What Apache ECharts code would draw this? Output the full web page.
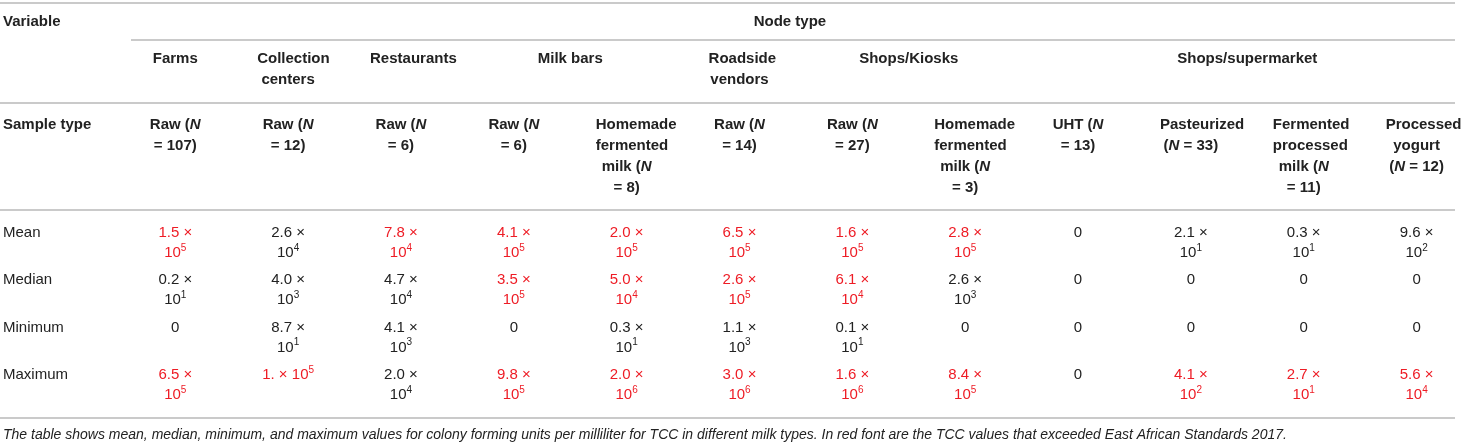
<!DOCTYPE html>
<html>
<head>
<meta charset="utf-8">
<script src="https://cdn.jsdelivr.net/npm/echarts@6/dist/echarts.min.js"></script>
<style>
  html, body { margin: 0; padding: 0; background: #fff; }
  #tcc_table { width: 1473px; height: 445px; }
</style>
</head>
<body>
<div id="tcc_table"></div>
<script>
// header texts
var variableLabel = 'Variable';
var nodeTypeLabel = 'Node type';
var sampleTypeLabel = 'Sample type';
var groupNames = ['Farms', 'Collection\ncenters', 'Restaurants', 'Milk bars', 'Roadside\nvendors', 'Shops/Kiosks', 'Shops/supermarket'];
var groupSpans = [1, 1, 1, 2, 1, 2, 4];
var sampleTypes = [
  'Raw (N\n= 107)', 'Raw (N\n= 12)', 'Raw (N\n= 6)', 'Raw (N\n= 6)',
  'Homemade\nfermented\nmilk (N\n= 8)', 'Raw (N\n= 14)', 'Raw (N\n= 27)',
  'Homemade\nfermented\nmilk (N\n= 3)', 'UHT (N\n= 13)', 'Pasteurized\n(N = 33)',
  'Fermented\nprocessed\nmilk (N\n= 11)', 'Processed\nyogurt\n(N = 12)'
];

// body
var rowNames = ['Mean', 'Median', 'Minimum', 'Maximum'];
var meanValues = ['1.5 × 10^5', '2.6 × 10^4', '7.8 × 10^4', '4.1 × 10^5', '2.0 × 10^5', '6.5 × 10^5', '1.6 × 10^5', '2.8 × 10^5', '0', '2.1 × 10^1', '0.3 × 10^1', '9.6 × 10^2'];
var medianValues = ['0.2 × 10^1', '4.0 × 10^3', '4.7 × 10^4', '3.5 × 10^5', '5.0 × 10^4', '2.6 × 10^5', '6.1 × 10^4', '2.6 × 10^3', '0', '0', '0', '0'];
var minimumValues = ['0', '8.7 × 10^1', '4.1 × 10^3', '0', '0.3 × 10^1', '1.1 × 10^3', '0.1 × 10^1', '0', '0', '0', '0', '0'];
var maximumValues = ['6.5 × 10^5', '1. × 10^5', '2.0 × 10^4', '9.8 × 10^5', '2.0 × 10^6', '3.0 × 10^6', '1.6 × 10^6', '8.4 × 10^5', '0', '4.1 × 10^2', '2.7 × 10^1', '5.6 × 10^4'];
// 1 = exceeded East African Standards (red)
var meanExceeded = [1, 0, 1, 1, 1, 1, 1, 1, 0, 0, 0, 0];
var medianExceeded = [0, 0, 0, 1, 1, 1, 1, 0, 0, 0, 0, 0];
var minimumExceeded = [0, 0, 0, 0, 0, 0, 0, 0, 0, 0, 0, 0];
var maximumExceeded = [1, 1, 0, 1, 1, 1, 1, 1, 0, 1, 1, 1];

var caption = 'The table shows mean, median, minimum, and maximum values for colony forming units per milliliter for TCC in different milk types. In red font are the TCC values that exceeded East African Standards 2017.';

var FONT = "'Liberation Sans', Arial, Helvetica, sans-serif";
var INK = '#222222';
var RED = '#ee1c25';
var RULE = '#b8b8b8';
var CELL_PAD = 51;   // band width minus text width of a cell
var HEAD_LINE = 21;

var rich = {
  b: { fontFamily: FONT, fontSize: 15, fontWeight: 'bold', lineHeight: 21, fill: INK },
  bi: { fontFamily: FONT, fontSize: 15, fontWeight: 'bold', fontStyle: 'italic', lineHeight: 21, fill: INK },
  n: { fontFamily: FONT, fontSize: 15, lineHeight: 20, fill: INK },
  s: { fontFamily: FONT, fontSize: 10, lineHeight: 12, verticalAlign: 'top', fill: INK },
  nr: { fontFamily: FONT, fontSize: 15, lineHeight: 20, fill: RED },
  sr: { fontFamily: FONT, fontSize: 10, lineHeight: 12, verticalAlign: 'top', fill: RED }
};

var measureCtx = document.createElement('canvas').getContext('2d');
function boldWidth(s) {
  measureCtx.font = 'bold 15px ' + FONT;
  return measureCtx.measureText(s).width;
}

function headLine(line) {
  var out = '';
  line.split('(N').forEach(function (p, i) {
    if (i > 0) out += '{b|(}{bi|N}';
    if (p) out += '{b|' + p + '}';
  });
  return out;
}

function valueText(v, red) {
  var n = red ? 'nr' : 'n', s = red ? 'sr' : 's';
  var m = v.match(/^(.*) × 10\^(\d+)$/);
  if (!m) return '{' + n + '|' + v + '}';
  if (m[1].length <= 2) return '{' + n + '|' + m[1] + ' × 10}{' + s + '|' + m[2] + '}';
  return '{' + n + '|' + m[1] + ' ×}\n{' + n + '|10}{' + s + '|' + m[2] + '}';
}

// header cells: lines of bold text, position in table units
var headCells = [
  { x: -0.5, y: 0.5, span: 1, lines: [variableLabel], align: 'left', va: 'middle', dx: -3, dy: 0 },
  { x: 6.5, y: 0.5, span: 12, lines: [nodeTypeLabel], align: 'center', va: 'middle', dx: -6, dy: 0 }
];

var groupCells = [];
var col = 1;
groupNames.forEach(function (g, i) {
  groupCells.push({ x: col + (groupSpans[i] - 1) / 2, y: 0, span: groupSpans[i], lines: g.split('\n'), align: 'center', va: 'top', dx: 0, dy: 8.5 });
  col += groupSpans[i];
});

var sampleCells = [{ x: -0.5, y: 0, span: 1, lines: [sampleTypeLabel], align: 'left', va: 'top', dx: -3, dy: 11.5 }];
sampleTypes.forEach(function (t, i) {
  sampleCells.push({ x: i + 1, y: 0, span: 1, lines: t.split('\n'), align: 'center', va: 'top', dx: 0, dy: 11.5 });
});

var bodyRows = [meanValues, medianValues, minimumValues, maximumValues];
var bodyFlags = [meanExceeded, medianExceeded, minimumExceeded, maximumExceeded];
var bodyCells = [];
rowNames.forEach(function (r, j) {
  bodyCells.push({ x: -0.5, y: j, text: '{n|' + r + '}', align: 'left', va: 'top', dx: -3, dy: 4 });
  bodyRows[j].forEach(function (v, i) {
    bodyCells.push({ x: i + 1, y: j, text: valueText(v, bodyFlags[j][i]), align: 'center', va: 'top', dx: 0, dy: 4 });
  });
});

function headSeries(cells, gridIndex) {
  return {
    type: 'custom',
    xAxisIndex: gridIndex,
    yAxisIndex: gridIndex,
    silent: true,
    data: cells.map(function (c) { return [c.x, c.y]; }),
    renderItem: function (params, api) {
      var c = cells[params.dataIndex];
      var p = api.coord([api.value(0), api.value(1)]);
      var room = api.size([c.span, 0])[0] - CELL_PAD;
      return {
        type: 'group',
        children: c.lines.map(function (ln, k) {
          var align = c.align, x = p[0] + c.dx;
          // a word wider than the cell overflows to the right, as in an html table
          if (align === 'center' && boldWidth(ln) > room) {
            align = 'left';
            x = x - room / 2;
          }
          return {
            type: 'text',
            x: x,
            y: p[1] + c.dy + k * HEAD_LINE,
            style: { text: headLine(ln), rich: rich, align: align, verticalAlign: c.va }
          };
        })
      };
    }
  };
}

function bodySeries(cells, gridIndex) {
  return {
    type: 'custom',
    xAxisIndex: gridIndex,
    yAxisIndex: gridIndex,
    silent: true,
    data: cells.map(function (c) { return [c.x, c.y]; }),
    renderItem: function (params, api) {
      var c = cells[params.dataIndex];
      var p = api.coord([api.value(0), api.value(1)]);
      return {
        type: 'text',
        x: p[0] + c.dx,
        y: p[1] + c.dy,
        style: { text: c.text, rich: rich, align: c.align, verticalAlign: c.va }
      };
    }
  };
}

var sections = [
  { top: 3, height: 37, rows: 1 },
  { top: 40, height: 63, rows: 1 },
  { top: 103, height: 107, rows: 1 },
  { top: 219, height: 189.2, rows: 4 }
];

function rule(x1, y, x2) {
  return { type: 'line', silent: true, shape: { x1: x1, y1: y, x2: x2, y2: y }, style: { stroke: RULE, lineWidth: 1.4 } };
}

var myChart = echarts.init(document.getElementById('tcc_table'), null, { renderer: 'canvas' });
var option = {
  animation: false,
  backgroundColor: '#ffffff',
  title: {
    text: caption,
    left: 3,
    top: 428,
    padding: 0,
    textStyle: { fontFamily: FONT, fontSize: 14, fontWeight: 'normal', fontStyle: 'italic', color: INK }
  },
  grid: sections.map(function (s) {
    return { left: 6, width: 1473, top: s.top, height: s.height };
  }),
  xAxis: sections.map(function (s, i) {
    return { type: 'value', gridIndex: i, min: -0.5, max: 12.5, show: false };
  }),
  yAxis: sections.map(function (s, i) {
    return { type: 'value', gridIndex: i, min: 0, max: s.rows, inverse: true, show: false };
  }),
  graphic: [
    rule(0, 3, 1455),
    rule(131, 40, 1455),
    rule(0, 103, 1455),
    rule(0, 210, 1455),
    rule(0, 418, 1455)
  ],
  series: [
    headSeries(headCells, 0),
    headSeries(groupCells, 1),
    headSeries(sampleCells, 2),
    bodySeries(bodyCells, 3)
  ]
};
myChart.setOption(option);
</script>
</body>
</html>
